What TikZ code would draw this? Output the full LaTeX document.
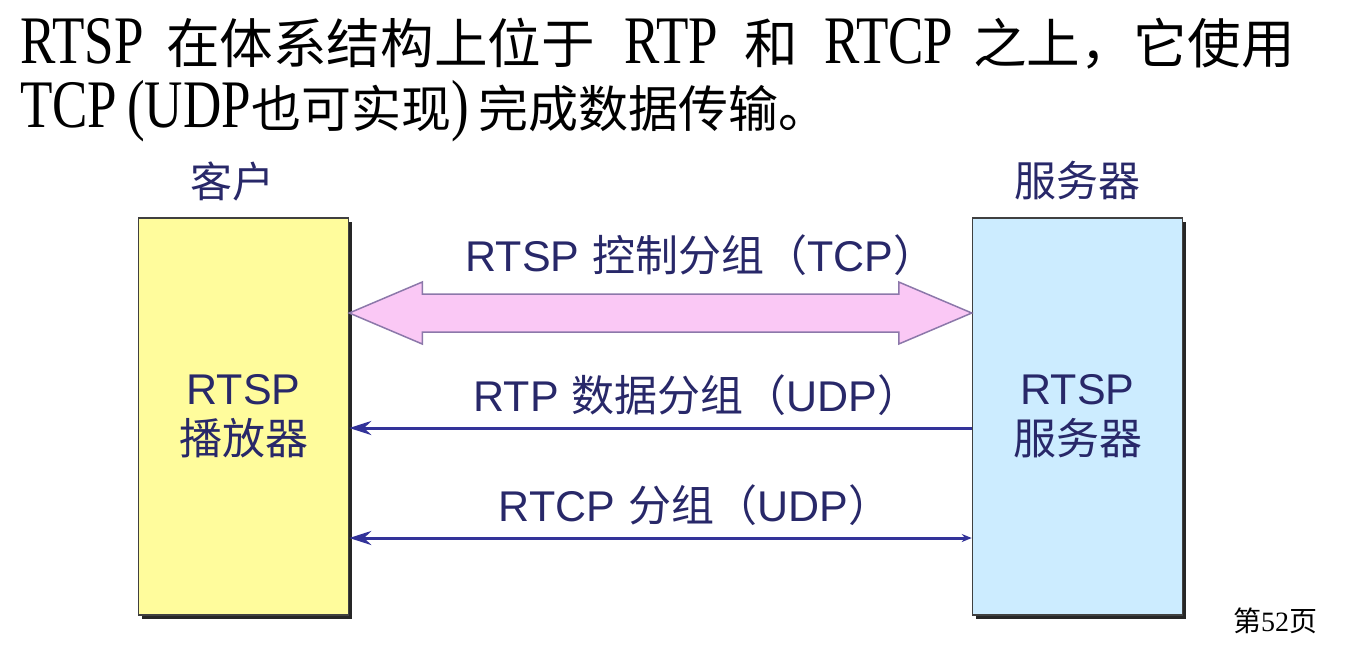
\documentclass[tikz,border=0pt]{standalone}
\usepackage{fontspec}
\setsansfont{Liberation Sans}
\newfontfamily\cjk{Noto Sans CJK SC}
\newfontfamily\tnr[FakeStretch=0.78]{Liberation Serif}
\newfontfamily\tnrn{Liberation Serif}
\usetikzlibrary{arrows.meta,calc,shadows}
\definecolor{navy}{RGB}{51,51,153}
\definecolor{txt}{RGB}{40,40,105}
\definecolor{yel}{RGB}{255,252,156}
\definecolor{blu}{RGB}{204,236,255}
\definecolor{pinkf}{RGB}{250,200,245}
\definecolor{pinkd}{RGB}{140,120,170}
\begin{document}
\begin{tikzpicture}[x=0.5pt,y=-0.5pt,
  ttl/.style={anchor=base west,inner sep=0,outer sep=0},
  lat/.style={ttl,font=\tnr\fontsize{34}{34}\selectfont},
  han/.style={ttl,font=\cjk\fontsize{26.8}{26.8}\selectfont},
  hantwo/.style={ttl,font=\cjk\fontsize{25}{25}\selectfont},
  box/.style={draw=black!75,line width=0.75pt,minimum width=105pt,minimum height=198.5pt,
    inner sep=0,align=center,text=txt,font=\fontsize{21.5}{25}\selectfont,
    general shadow={fill=black!85,shadow xshift=1.8pt,shadow yshift=-1.8pt}},
  lbl/.style={text=txt,font=\fontsize{21.5}{24}\selectfont,inner sep=0},
  thinarrow/.style={draw=navy,line width=1.5pt},
  fat/.style={draw=pinkd,fill=pinkf,line width=0.75pt,line join=miter},
]
\useasboundingbox[fill=white] (0,0) rectangle (1368,650);

% title line 1
\node[lat] (t1) at (20,63) {RTSP};
\node[han] (t2) at (166,63) {在体系结构上位于};
\node[lat] (t3) at (624,63) {RTP};
\node[han] (t4) at (744,63) {和};
\node[lat] (t5) at (824,63) {RTCP};
\node[han] (t6) at (973,63) {之上，它使用};
% title line 2
\node[lat] (s1) at (20,127) {TCP};
\node[lat] (s2) at ($(s1.base east)+(10,0)$) {(UDP};
\node[hantwo] (s3) at (s2.base east) {也可实现};
\node[lat] (s4) at (s3.base east) {)};
\node[hantwo] (s5) at ($(s4.base east)+(10,0)$) {完成数据传输。};

% headings
\node[lbl,font=\cjk\fontsize{21}{24}\selectfont] (hc) at (232,181) {客户};
\node[lbl,font=\cjk\fontsize{21}{24}\selectfont] (hs) at (1077,181) {服务器};

% boxes
\node[box,fill=yel] (lb) at (243.5,416.5) {{\sffamily RTSP}\\{\cjk 播放器}};
\node[box,fill=blu] (rb) at (1077.5,416.5) {{\sffamily RTSP}\\{\cjk 服务器}};

\coordinate (yfat) at (0,313);
\coordinate (yrtp) at (0,428);
\coordinate (yrtcp) at (0,538);
\coordinate (fl) at (lb.east |- yfat);
\coordinate (fr) at (rb.west |- yfat);

% fat double arrow
\draw[fat] (fl) -- ($(fl)+(73,-31)$) -- ($(fl)+(73,-19)$) -- ($(fr)+(-73,-19)$)
  -- ($(fr)+(-73,-31)$) -- (fr) -- ($(fr)+(-73,31)$) -- ($(fr)+(-73,19)$)
  -- ($(fl)+(73,19)$) -- ($(fl)+(73,31)$) -- cycle;

% thin arrows
\draw[thinarrow,-{Stealth[length=11pt,width=7pt]}] (rb.west |- yrtp) -- (lb.east |- yrtp);
\draw[thinarrow,{Stealth[length=11pt,width=7pt]}-{Stealth[length=5pt,width=4pt]}] (lb.east |- yrtcp) -- (rb.west |- yrtcp);

% labels
\node[lbl] (l1) at (701,255) {{\sffamily RTSP} {\cjk 控制分组（}{\sffamily TCP}{\cjk ）}};
\node[lbl] (l2) at (697,395) {{\sffamily RTP} {\cjk 数据分组（}{\sffamily UDP}{\cjk ）}};
\node[lbl] (l3) at (695,505) {{\sffamily RTCP} {\cjk 分组（}{\sffamily UDP}{\cjk ）}};

% page number
\node[inner sep=0,font=\fontsize{14}{16}\selectfont] (pg) at (1275,621) {{\cjk 第}{\tnrn 52}{\cjk 页}};
\end{tikzpicture}
\end{document}
